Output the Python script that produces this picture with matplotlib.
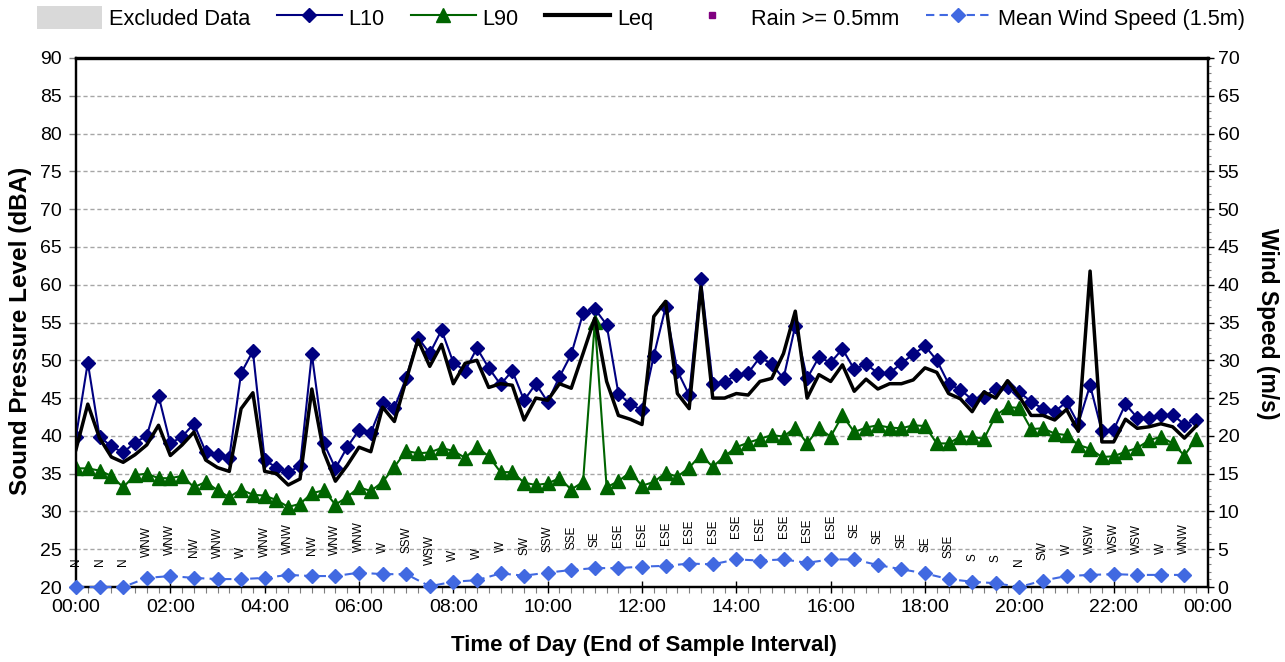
import numpy as np
import matplotlib
matplotlib.use("Agg")
import matplotlib.pyplot as plt
from matplotlib.lines import Line2D
from matplotlib.patches import Patch
from matplotlib.ticker import MultipleLocator, FixedLocator

plt.rcParams['font.family'] = ['Liberation Sans', 'DejaVu Sans']

# 15-minute noise statistics (dBA), end of sample interval from 00:00
l10 = [39.9, 49.7, 39.9, 38.6, 37.8, 39.1, 40.0, 45.3, 39.0, 39.9, 41.6, 37.9,
       37.5, 37.1, 48.3, 51.2, 36.8, 35.8, 35.2, 36.0, 50.8, 39.1, 35.7, 38.5,
       40.8, 40.4, 44.3, 43.7, 47.7, 53.0, 50.9, 54.0, 49.7, 48.6, 51.6, 49.0,
       46.8, 48.6, 44.7, 46.9, 44.5, 47.8, 50.8, 56.2, 56.8, 54.7, 45.6, 44.2,
       43.4, 50.6, 57.0, 48.6, 45.4, 60.7, 46.9, 47.1, 48.1, 48.3, 50.4, 49.5,
       47.6, 54.6, 47.6, 50.4, 49.7, 51.5, 48.8, 49.5, 48.3, 48.3, 49.6, 50.8,
       51.9, 50.0, 46.9, 46.1, 44.8, 45.2, 46.2, 46.5, 45.8, 44.5, 43.6, 43.2,
       44.5, 41.6, 46.7, 40.6, 40.8, 44.2, 42.4, 42.4, 42.7, 42.8, 41.5, 42.1]

l90 = [35.7, 35.7, 35.4, 34.7, 33.2, 34.8, 35.0, 34.4, 34.4, 34.7, 33.2, 33.9,
       32.8, 31.9, 32.9, 32.2, 32.1, 31.5, 30.6, 31.0, 32.4, 32.8, 30.9, 31.9,
       33.2, 32.7, 33.9, 35.9, 38.0, 37.7, 37.8, 38.4, 38.0, 37.1, 38.5, 37.3,
       35.2, 35.2, 33.8, 33.5, 33.7, 34.4, 32.9, 33.9, 55.1, 33.2, 34.0, 35.2,
       33.4, 33.9, 35.1, 34.6, 35.8, 37.5, 35.9, 37.3, 38.5, 39.1, 39.6, 40.1,
       39.9, 41.1, 39.0, 41.0, 39.9, 42.7, 40.5, 41.1, 41.4, 41.1, 41.0, 41.4,
       41.3, 39.0, 39.0, 39.9, 39.9, 39.6, 42.7, 43.8, 43.7, 40.9, 41.0, 40.3,
       40.1, 38.8, 38.3, 37.2, 37.3, 37.9, 38.4, 39.4, 39.9, 39.0, 37.4, 39.6]

leq = [38.2, 44.2, 39.7, 37.2, 36.5, 37.5, 38.8, 41.4, 37.4, 38.8, 40.5, 36.8,
       35.8, 35.3, 43.6, 45.7, 35.3, 35.0, 33.5, 34.3, 46.2, 37.9, 34.0, 36.1,
       38.5, 37.9, 43.8, 41.9, 47.4, 52.7, 49.2, 52.1, 46.9, 49.6, 50.0, 46.4,
       46.9, 46.7, 42.1, 45.0, 44.7, 46.9, 46.3, 50.9, 55.6, 47.2, 42.7, 42.2,
       41.5, 55.8, 57.8, 45.6, 43.6, 59.7, 45.0, 45.0, 45.6, 45.4, 47.2, 47.6,
       50.9, 56.5, 45.0, 48.1, 47.2, 49.4, 45.9, 47.5, 46.2, 46.9, 46.9, 47.4,
       49.0, 48.4, 45.6, 44.9, 43.2, 45.8, 45.0, 47.3, 45.2, 42.7, 42.7, 42.1,
       43.5, 40.6, 61.8, 39.2, 39.2, 42.2, 41.0, 41.2, 41.6, 41.2, 39.7, 41.3]

# 30-minute mean wind speed (m/s) at 1.5 m and prevailing direction
wind_speed = [0.0, 0.0, 0.0, 1.2, 1.45, 1.2, 1.05, 1.05, 1.2, 1.6, 1.45, 1.45,
              1.9, 1.7, 1.7, 0.1, 0.7, 0.9, 1.8, 1.5, 1.9, 2.25, 2.5, 2.5,
              2.7, 2.8, 3.1, 3.0, 3.65, 3.5, 3.65, 3.2, 3.65, 3.65, 2.9, 2.35,
              1.8, 1.05, 0.7, 0.5, 0.0, 0.85, 1.45, 1.6, 1.7, 1.6, 1.6, 1.6]

wind_dir = ['N', 'N', 'N', 'WNW', 'WNW', 'NW', 'WNW', 'W', 'WNW', 'WNW', 'NW', 'WNW',
            'WNW', 'W', 'SSW', 'WSW', 'W', 'W', 'W', 'SW', 'SSW', 'SSE', 'SE', 'ESE',
            'ESE', 'ESE', 'ESE', 'ESE', 'ESE', 'ESE', 'ESE', 'ESE', 'ESE', 'SE', 'SE', 'SE',
            'SE', 'SSE', 'S', 'S', 'N', 'SW', 'W', 'WSW', 'WSW', 'WSW', 'W', 'WNW']

x_tick_labels = ['00:00', '02:00', '04:00', '06:00', '08:00', '10:00', '12:00',
                 '14:00', '16:00', '18:00', '20:00', '22:00', '00:00']

noise_step_h = 0.25
wind_step_h = 0.5
t_noise = np.arange(len(l10)) * noise_step_h
t_wind = np.arange(len(wind_speed)) * wind_step_h

C_L10 = '#000080'
C_L90 = '#006400'
C_WIND = '#4169E1'
C_RAIN = '#800080'
C_EXCL = '#d9d9d9'

W, H = 1285, 662
fig = plt.figure(figsize=(W / 100, H / 100), dpi=100)
ax = fig.add_axes([76 / W, 1 - 587 / H, (1208 - 76) / W, (587 - 58) / H])
ax2 = ax.twinx()

ax.set_xlim(0, 24)
ax.set_ylim(20, 90)
ax2.set_ylim(0, 70)

ax.plot(t_noise, l10, color=C_L10, lw=1.5, marker='D', ms=7, mfc=C_L10, mec=C_L10, zorder=3)
ax.plot(t_noise, l90, color=C_L90, lw=1.5, marker='^', ms=9.5, mfc=C_L90, mec=C_L90, zorder=3)
ax.plot(t_noise, leq, color='black', lw=2.5, zorder=4)

ax2.plot(t_wind, wind_speed, color=C_WIND, lw=1.5, ls=(0, (4, 2.5)), marker='D', ms=7,
         mfc=C_WIND, mec=C_WIND, clip_on=False, zorder=3)
for t, w, d in zip(t_wind, wind_speed, wind_dir):
    ax2.annotate(d, xy=(t, w), xytext=(0, 21), textcoords='offset pixels',
                 rotation=90, ha='center', va='bottom', fontsize=8.5, color='black')

# grid and ticks
ax.set_yticks(np.arange(20, 91, 5))
ax.yaxis.grid(True, linestyle=(0, (3, 2)), color='#a6a6a6', lw=1)
ax.set_axisbelow(True)
ax.tick_params(axis='y', direction='out', length=5, width=1, color='#7f7f7f',
               labelsize=14, pad=5)

ax.xaxis.set_major_locator(FixedLocator(np.arange(0, 24.1, 2)))
ax.xaxis.set_minor_locator(MultipleLocator(noise_step_h))
ax.set_xticklabels(x_tick_labels)
ax.tick_params(axis='x', which='major', direction='inout', length=9, width=1,
               labelsize=14, pad=4)
ax.tick_params(axis='x', which='minor', direction='out', length=4, width=0.8, color='#7f7f7f')

ax2.set_yticks(np.arange(0, 71, 5))
ax2.yaxis.set_minor_locator(MultipleLocator(1))
ax2.tick_params(axis='y', which='major', direction='out', length=4, width=1,
                labelsize=14, pad=3)
ax2.tick_params(axis='y', which='minor', direction='out', length=2.5, width=0.8,
                color='#7f7f7f')

for a in (ax, ax2):
    a.spines['top'].set_linewidth(2.3)
    a.spines['left'].set_linewidth(1.6)
    a.spines['right'].set_linewidth(1.6)
    a.spines['bottom'].set_linewidth(1.6)
    for s in a.spines.values():
        s.set_color('black')

fig.text(21 / W, 1 - 331 / H, 'Sound Pressure Level (dBA)', rotation=90,
         ha='center', va='center', fontsize=17.5, fontweight='bold')
fig.text(1267 / W, 1 - 324 / H, 'Wind Speed (m/s)', rotation=270,
         ha='center', va='center', fontsize=16.5, fontweight='bold')
fig.text(644 / W, 1 - 646 / H, 'Time of Day (End of Sample Interval)',
         ha='center', va='center', fontsize=16, fontweight='bold')

handles = [
    Patch(facecolor=C_EXCL, edgecolor='none'),
    Line2D([], [], color=C_L10, lw=1.5, marker='D', ms=7),
    Line2D([], [], color=C_L90, lw=1.5, marker='^', ms=9.5),
    Line2D([], [], color='black', lw=3),
    Line2D([], [], color=C_RAIN, lw=0, marker='s', ms=5),
    Line2D([], [], color=C_WIND, lw=1.5, ls=(0, (4, 2.5)), marker='D', ms=7),
]
labels = ['Excluded Data', 'L10', 'L90', 'Leq', 'Rain >= 0.5mm', 'Mean Wind Speed (1.5m)']
fig.legend(handles, labels, loc='center left', bbox_to_anchor=(37 / W, 1 - 18 / H),
           ncol=6, frameon=False, fontsize=15.7, handlelength=3.0, handletextpad=0.3,
           columnspacing=1.2, handleheight=1.2, borderpad=0, borderaxespad=0)

fig.savefig('out.png', dpi=100)
